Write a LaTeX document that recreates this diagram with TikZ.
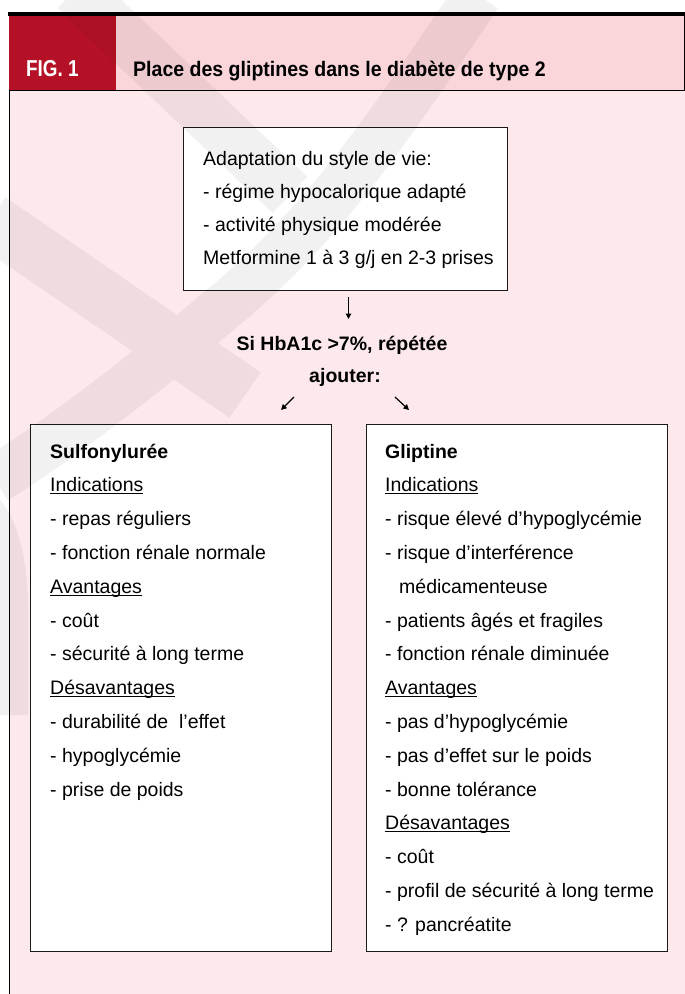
\documentclass[tikz,border=0pt]{standalone}
\usepackage{fontspec}
\setmainfont{Liberation Sans}
\newfontfamily\figfont[FakeStretch=0.82]{Liberation Sans}
\newfontfamily\titlefont[FakeStretch=0.93]{Liberation Sans}
\usetikzlibrary{arrows.meta}
\definecolor{figred}{RGB}{181,17,38}
\definecolor{headpink}{RGB}{250,214,219}
\definecolor{bodypink}{RGB}{253,233,235}
\newlength\ulw
\newcommand\myul[1]{\settowidth\ulw{#1}\rlap{\rule[-2.6pt]{\ulw}{1.1pt}}#1}
\begin{document}
\begin{tikzpicture}[x=1pt,y=-1pt,
  txt/.style={anchor=base west,inner sep=0pt,font=\fontsize{19.5}{23}\selectfont},
  ctxt/.style={anchor=base,inner sep=0pt,font=\bfseries\fontsize{19.5}{23}\selectfont},
  box/.style={draw=black!90,line width=1.4pt,fill=white,inner sep=0pt,anchor=north west},
  arr/.style={line width=1.2pt,-{Triangle[length=5.5pt,width=5.5pt]}}]
\useasboundingbox (0,0) rectangle (685,994);
% backgrounds
\fill[white] (0,0) rectangle (685,994);
\fill[bodypink] (9,90) rectangle (685,994);
\fill[headpink] (116,16) rectangle (685,90);
\fill[figred] (9,16) rectangle (116,90);
\draw[line width=3.5pt] (8,14) -- (685,14);
\draw[line width=0.9pt] (9,90) -- (685,90);
\draw[line width=0.9pt] (684.5,16) -- (684.5,90);
\draw[line width=0.9pt] (9.5,90) -- (9.5,994);
% header text
\node[anchor=base west,inner sep=0pt,text=white,font=\figfont\bfseries\fontsize{23}{26}\selectfont] (fig) at (26,76) {FIG. 1};
\node[anchor=base west,inner sep=0pt,font=\titlefont\bfseries\fontsize{21}{24}\selectfont] (title) at (133,76) {Place des gliptines dans le diabète de type 2};
% top box
\node[box,minimum width=324pt,minimum height=163pt] (top) at (183,127) {};
\node[txt] (t1) at (203,165) {Adaptation du style de vie:};
\node[txt] (t2) at (203,198) {- régime hypocalorique adapté};
\node[txt] (t3) at (203,231) {- activité physique modérée};
\node[txt] (t4) at (203,264) {Metformine 1 à 3 g/j en 2-3 prises};
% arrows and condition
\coordinate (d1) at (348.5,297);
\coordinate (d2) at (348.5,319);
\draw[arr] (d1) -- (d2);
\node[ctxt] (si) at (342,350) {Si HbA1c >7\%, répétée};
\node[ctxt] (aj) at (345,382) {ajouter:};
\coordinate (l1) at (294,397);
\coordinate (l2) at (281,410);
\draw[arr] (l1) -- (l2);
\coordinate (r1) at (395,397);
\coordinate (r2) at (409,410);
\draw[arr] (r1) -- (r2);
% side boxes
\node[box,minimum width=301pt,minimum height=527pt] (lbox) at (30,424) {};
\node[box,minimum width=301pt,minimum height=527pt] (rbox) at (366,424) {};
\foreach \t [count=\i from 0] in {{\textbf{Sulfonylurée}},{\myul{Indications}},{- repas réguliers},{- fonction rénale normale},{\myul{Avantages}},{- coût},{- sécurité à long terme},{\myul{Désavantages}},{- durabilité de\ \ l’effet},{- hypoglycémie},{- prise de poids}}
  \node[txt] (L\i) at (50,{458+33.8*\i}) {\t};
\foreach \t [count=\i from 0] in {{\textbf{Gliptine}},{\myul{Indications}},{- risque élevé d’hypoglycémie},{- risque d’interférence},{\hspace*{14pt}médicamenteuse},{- patients âgés et fragiles},{- fonction rénale diminuée},{\myul{Avantages}},{- pas d’hypoglycémie},{- pas d’effet sur le poids},{- bonne tolérance},{\myul{Désavantages}},{- coût},{- profil de sécurité à long terme},{- ? pancréatite}}
  \node[txt] (R\i) at (385,{458+33.8*\i}) {\t};
% watermark
\begin{scope}[transparency group,opacity=0.055,line cap=butt]
\draw[line width=50pt] (75,-10) -- (290,195);
\draw[line width=48pt] (478,-5) .. controls (400,110) and (330,220) .. (220,310) .. controls (150,370) and (60,440) .. (-5,480);
\draw[line width=55pt] (-10,220) -- (245,395);
\fill (0,500) .. controls (18,520) and (28,560) .. (28,610) -- (28,715) -- (0,715) -- cycle;
\end{scope}
\end{tikzpicture}
\end{document}
